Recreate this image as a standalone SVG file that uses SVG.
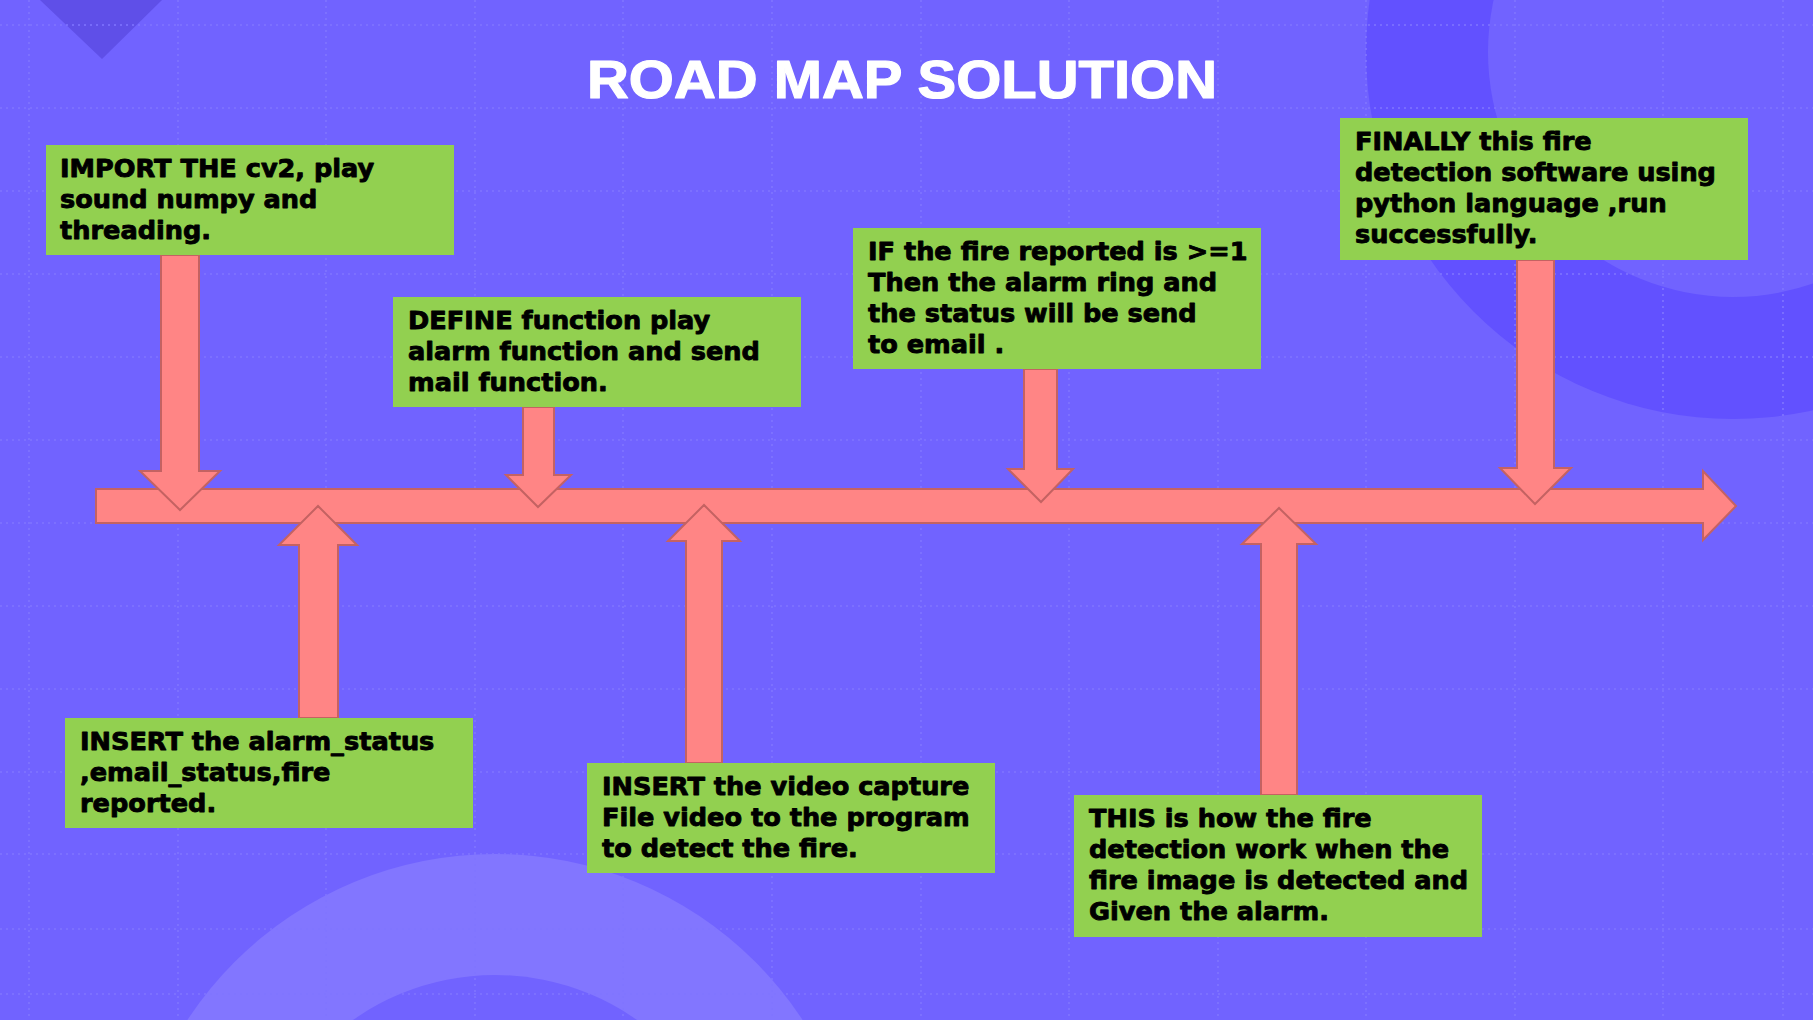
<svg xmlns="http://www.w3.org/2000/svg" width="1813" height="1020" viewBox="0 0 1813 1020">
<style>
.grid line{stroke:#8075ff;stroke-width:1.6;stroke-dasharray:2 4}
.box rect{fill:#92d050}
.box text{font-family:"DejaVu Sans",sans-serif;font-weight:bold;font-size:25.6px;fill:#000;stroke:#000;stroke-width:0.9;stroke-linejoin:round}
.arrow{fill:#ff8585;stroke:#c46262;stroke-width:2;stroke-linejoin:miter}
.title{font-family:"Liberation Sans",Arial,sans-serif;font-weight:bold;font-size:54px;fill:#fff;stroke:#fff;stroke-width:1.2;stroke-linejoin:round}
</style>
<rect x="0" y="0" width="1813" height="1020" fill="#7163ff"/>
<polygon points="40,0 162,0 102,59" fill="#5f4fe8"/>
<circle cx="1733" cy="52" r="367" fill="#6251ff"/>
<circle cx="1733" cy="52" r="245" fill="#7163ff"/>
<circle cx="495" cy="1222" r="368" fill="#8276ff"/>
<circle cx="495" cy="1222" r="247" fill="#7163ff"/>
<g class="grid">
<line x1="0" y1="25" x2="1813" y2="25"/>
<line x1="0" y1="108" x2="1813" y2="108"/>
<line x1="0" y1="191" x2="1813" y2="191"/>
<line x1="0" y1="274" x2="1813" y2="274"/>
<line x1="0" y1="357" x2="1813" y2="357"/>
<line x1="0" y1="440" x2="1813" y2="440"/>
<line x1="0" y1="523" x2="1813" y2="523"/>
<line x1="0" y1="606" x2="1813" y2="606"/>
<line x1="0" y1="689" x2="1813" y2="689"/>
<line x1="0" y1="772" x2="1813" y2="772"/>
<line x1="0" y1="854" x2="1813" y2="854"/>
<line x1="0" y1="929" x2="1813" y2="929"/>
<line x1="0" y1="994" x2="1813" y2="994"/>
<line x1="29" y1="0" x2="29" y2="1020"/>
<line x1="178" y1="0" x2="178" y2="1020"/>
<line x1="326" y1="0" x2="326" y2="1020"/>
<line x1="475" y1="0" x2="475" y2="1020"/>
<line x1="623" y1="0" x2="623" y2="1020"/>
<line x1="772" y1="0" x2="772" y2="1020"/>
<line x1="921" y1="0" x2="921" y2="1020"/>
<line x1="1069" y1="0" x2="1069" y2="1020"/>
<line x1="1218" y1="0" x2="1218" y2="1020"/>
<line x1="1366" y1="0" x2="1366" y2="1020"/>
<line x1="1515" y1="0" x2="1515" y2="1020"/>
<line x1="1663" y1="0" x2="1663" y2="1020"/>
<line x1="1783" y1="0" x2="1783" y2="1020"/>
</g>
<text class="title" x="587" y="98" textLength="630" lengthAdjust="spacingAndGlyphs">ROAD MAP SOLUTION</text>
<g id="connectors">
<path id="timeline" class="arrow" d="M96,489 H1703 V471 L1736,506 L1703,540 V523 H96 Z"/>
<path class="arrow" d="M161,255 H199 V471 H220 L180,510 L140,471 H161 Z"/>
<path class="arrow" d="M523,407 H554 V475 H571 L538,507 L506,475 H523 Z"/>
<path class="arrow" d="M1024,369 H1057 V469 H1073 L1041,502 L1008,469 H1024 Z"/>
<path class="arrow" d="M1517,260 H1554 V468 H1571 L1535,504 L1500,468 H1517 Z"/>
<path class="arrow" d="M299,718 H338 V545 H357 L318,506 L279,545 H299 Z"/>
<path class="arrow" d="M686,763 H722 V541 H740 L704,505 L668,541 H686 Z"/>
<path class="arrow" d="M1261,795 H1297 V544 H1316 L1279,508 L1242,544 H1261 Z"/>
</g>
<g id="node1" class="box">
<rect x="46" y="145" width="408" height="110"/>
<text x="60" y="177">IMPORT THE cv2, play</text>
<text x="60" y="208">sound numpy and</text>
<text x="60" y="239">threading.</text>
</g>
<g id="node2" class="box">
<rect x="393" y="297" width="408" height="110"/>
<text x="408" y="329">DEFINE function play</text>
<text x="408" y="360">alarm function and send</text>
<text x="408" y="391">mail function.</text>
</g>
<g id="node3" class="box">
<rect x="853" y="228" width="408" height="141"/>
<text x="868" y="260">IF the fire reported is &gt;=1</text>
<text x="868" y="291">Then the alarm ring and</text>
<text x="868" y="322">the status will be send</text>
<text x="868" y="353">to email .</text>
</g>
<g id="node4" class="box">
<rect x="1340" y="118" width="408" height="142"/>
<text x="1355" y="150">FINALLY this fire</text>
<text x="1355" y="181">detection software using</text>
<text x="1355" y="212">python language ,run</text>
<text x="1355" y="243">successfully.</text>
</g>
<g id="node5" class="box">
<rect x="65" y="718" width="408" height="110"/>
<text x="80" y="750">INSERT the alarm_status</text>
<text x="80" y="781">,email_status,fire</text>
<text x="80" y="812">reported.</text>
</g>
<g id="node6" class="box">
<rect x="587" y="763" width="408" height="110"/>
<text x="602" y="795">INSERT the video capture</text>
<text x="602" y="826">File video to the program</text>
<text x="602" y="857">to detect the fire.</text>
</g>
<g id="node7" class="box">
<rect x="1074" y="795" width="408" height="142"/>
<text x="1089" y="827">THIS is how the fire</text>
<text x="1089" y="858">detection work when the</text>
<text x="1089" y="889">fire image is detected and</text>
<text x="1089" y="920">Given the alarm.</text>
</g>
</svg>
